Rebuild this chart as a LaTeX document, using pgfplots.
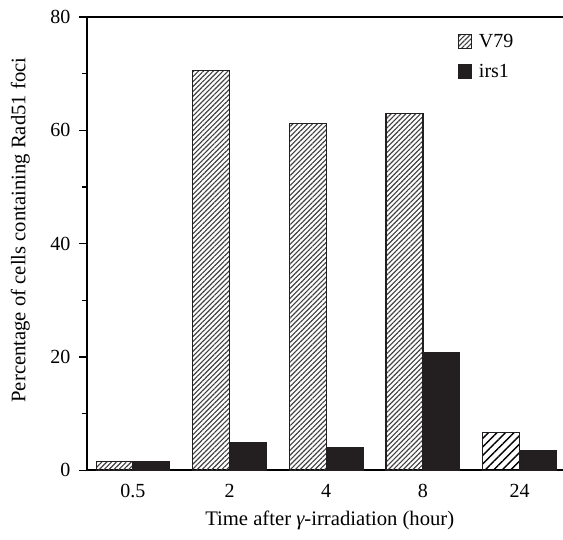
\documentclass[border=0pt]{standalone}
\usepackage{fontspec}
\setmainfont{Liberation Serif}
\usepackage{pgfplots}
\pgfplotsset{compat=1.18}
\usetikzlibrary{patterns.meta}
\definecolor{barblack}{HTML}{231F20}
\begin{document}
\begin{tikzpicture}
\begin{axis}[
  scale only axis, width=357pt, height=340pt,
  ymin=0, ymax=80, xmin=-0.475, xmax=4.45,
  ytick={0,20,...,80}, minor ytick={10,30,50,70},
  xtick={0,...,4}, xticklabels={0.5,2,4,8,24},
  axis x line*=bottom, axis y line*=left,
  tick align=outside,
  major tick length=6pt, minor tick length=4pt,
  x tick style={draw=none},
  y tick style={line width=1pt, black},
  axis line style={line width=1.4pt, black},
  ybar=0pt, bar width=0.38,
  ylabel={Percentage of cells containing Rad51 foci},
  xlabel={Time after {\itshape γ}-irradiation (hour)},
  every axis y label/.style={at={(axis description cs:0,0.53)}, rotate=90, anchor=center, yshift=50pt},
  every axis x label/.style={at={(axis description cs:0.51,0)}, anchor=center, yshift=-37.5pt},
  label style={font=\fontsize{15.5}{18}\selectfont},
  tick label style={font=\fontsize{15}{18}\selectfont},
  yticklabel style={xshift=-3pt},
  xticklabel style={yshift=-1pt},
  /pgf/number format/assume math mode=true,
  legend style={draw=none, fill=none, at={(0.77,0.975)}, anchor=north west,
    row sep=7pt, font=\fontsize{15}{18}\selectfont},
  legend cell align=left,
  legend image code/.code={\draw[#1, line width=0.8pt] (0pt,-5pt) rectangle (10pt,5pt); \path (13pt,0pt);},
]
\addplot[draw=barblack, line width=1pt, pattern={Lines[angle=45,distance=2.6pt,line width=0.85pt]}, pattern color=black!75, bar shift=-0.19]
  coordinates {(0,1.5) (1,70.5) (2,61.2) (3,63.0)};
\addlegendentry{V79}
\addplot[draw=barblack, fill=barblack, line width=0.6pt, bar shift=0.19]
  coordinates {(0,1.6) (1,4.9) (2,4.0) (3,20.8) (4,3.5)};
\addlegendentry{irs1}
\addplot[draw=barblack, line width=1pt, pattern={Lines[angle=45,distance=4.5pt,line width=1pt]}, pattern color=black, bar shift=-0.19, forget plot]
  coordinates {(4,6.7)};
\draw[line width=1.4pt, black] (rel axis cs:0,1) -- (rel axis cs:1,1);
\coordinate (ll) at (rel axis cs:0,0);
\coordinate (ur) at (rel axis cs:1,1);
\end{axis}
\pgfresetboundingbox
\path (ll) ++(-65.25pt,-51.75pt) coordinate (bbl);
\path (ur) ++(0pt,12.75pt) coordinate (bur);
\path[use as bounding box] (bbl) rectangle (bur);
\end{tikzpicture}
\end{document}
